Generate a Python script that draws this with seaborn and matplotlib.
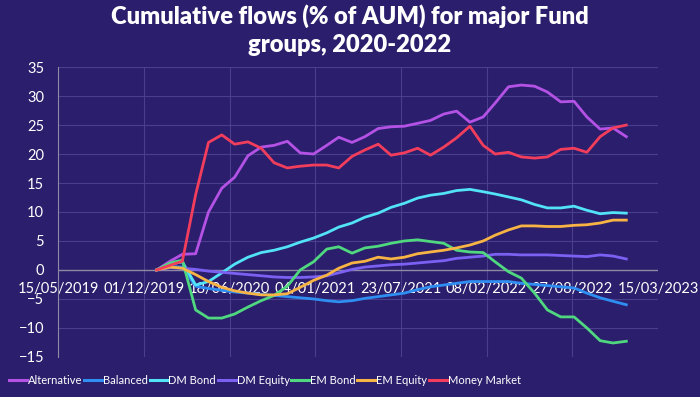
import pandas as pd
import numpy as np
import seaborn as sns
import matplotlib.pyplot as plt

# monthly cumulative flows (% of AUM), Dec 2019 - Dec 2022
dates = pd.date_range('2019-12-31', periods=37, freq='ME')

alternative = [0, 1.5, 2.7, 2.8, 10, 14.1, 16, 19.7, 21.2, 21.5, 22.2, 20.2, 20, 21.5, 22.9, 22,
               23, 24.4, 24.7, 24.8, 25.3, 25.8, 26.9, 27.4, 25.5, 26.4, 28.8, 31.6, 31.9, 31.7,
               30.7, 29, 29.1, 26.4, 24.3, 24.5, 23]
balanced = [0, 0.6, 0.5, -2.8, -3.2, -3.5, -3.8, -4.0, -4.2, -4.4, -4.6, -4.8, -5.0, -5.3, -5.5, -5.3,
            -4.9, -4.6, -4.3, -4.0, -3.4, -2.9, -2.6, -2.3, -2.0, -2.0, -2.0, -2.0, -2.3, -2.5,
            -2.7, -2.9, -3.1, -4.0, -4.8, -5.4, -6.0]
dm_bond = [0, 1.0, 1.4, -2.6, -2.0, -0.5, 1.0, 2.2, 3.0, 3.4, 4.0, 4.8, 5.5, 6.4, 7.4, 8.1,
           9.1, 9.8, 10.8, 11.5, 12.4, 12.9, 13.2, 13.7, 13.9, 13.5, 13.1, 12.6, 12.1, 11.3,
           10.7, 10.7, 11.0, 10.3, 9.7, 9.9, 9.8]
dm_equity = [0, 0.4, 0.3, 0.1, -0.2, -0.4, -0.6, -0.8, -1.0, -1.2, -1.3, -1.3, -1.2, -1.0, -0.5, 0.1,
             0.5, 0.7, 0.9, 1.0, 1.2, 1.4, 1.6, 2.0, 2.2, 2.4, 2.7, 2.7, 2.6, 2.6,
             2.6, 2.5, 2.4, 2.3, 2.6, 2.4, 1.9]
em_bond = [0, 1.2, 1.7, -6.9, -8.3, -8.3, -7.6, -6.4, -5.3, -4.4, -2.8, 0, 1.4, 3.6, 4.0, 2.9,
           3.8, 4.1, 4.6, 5.0, 5.2, 4.9, 4.6, 3.4, 3.1, 3.0, 1.4, -0.3, -1.4, -4.0,
           -6.9, -8.1, -8.1, -10.0, -12.2, -12.6, -12.3]
em_equity = [0, 0.5, 0.3, -0.8, -2.0, -3.0, -3.6, -4.0, -4.3, -4.3, -4.1, -3.0, -1.8, -0.9, 0.3, 1.2,
             1.5, 2.2, 1.9, 2.2, 2.8, 3.1, 3.4, 3.8, 4.3, 5.0, 6.0, 6.9, 7.6, 7.6,
             7.5, 7.5, 7.7, 7.8, 8.1, 8.6, 8.6]
money_market = [0, 0.8, 1.5, 13, 22, 23.3, 21.7, 22.1, 21, 18.5, 17.6, 17.9, 18.1, 18.1, 17.6, 19.6,
                20.7, 21.7, 19.8, 20.2, 21, 19.8, 21.2, 22.8, 24.8, 21.5, 20, 20.3, 19.5, 19.3,
                19.5, 20.8, 21, 20.3, 23, 24.5, 25]

groups = ['Alternative', 'Balanced', 'DM Bond', 'DM Equity', 'EM Bond', 'EM Equity', 'Money Market']
colors = ['#b452e6', '#2f8ef2', '#52e3f7', '#7b60f2', '#4fd87f', '#f7b444', '#f23e5c']
tick_labels = ['15/05/2019', '01/12/2019', '18/06/2020', '04/01/2021',
               '23/07/2021', '08/02/2022', '27/08/2022', '15/03/2023']
y_ticks = [-15, -10, -5, 0, 5, 10, 15, 20, 25, 30, 35]

series = [alternative, balanced, dm_bond, dm_equity, em_bond, em_equity, money_market]
df = pd.concat([pd.DataFrame({'Date': dates, 'Flow': s, 'Group': g}) for g, s in zip(groups, series)])

bg = '#2b1e6c'
grid_c = '#4a3f8c'
plt.rcParams['font.family'] = ['Lato', 'DejaVu Sans']

fig = plt.figure(figsize=(7, 3.97), dpi=100, facecolor=bg)
ax = fig.add_axes([0.083, 0.101, 0.857, 0.730])
ax.set_facecolor(bg)

sns.lineplot(data=df, x='Date', y='Flow', hue='Group', palette=dict(zip(groups, colors)),
             linewidth=2.0, ax=ax, legend=True)

tick_dates = pd.to_datetime(tick_labels, dayfirst=True)
ax.set_xlim(tick_dates[0], tick_dates[-1])
ax.set_ylim(-15, 35)
ax.set_xticks(tick_dates)
ax.set_xticklabels(tick_labels)
ax.set_yticks(y_ticks)
ax.grid(True, color=grid_c, linewidth=0.8)
ax.set_axisbelow(True)
ax.axhline(0, color='#8e8aa6', linewidth=1, zorder=1)

for side in ['top', 'right', 'bottom']:
    ax.spines[side].set_visible(False)
ax.spines['left'].set_color('#8e8aa6')
ax.spines['bottom'].set_position(('data', 0))
ax.tick_params(axis='x', length=0, pad=9, colors='white', labelsize=10.5)
ax.tick_params(axis='y', length=0, pad=10, colors='white', labelsize=10.5)
ax.set_xlabel('')
ax.set_ylabel('')

leg = ax.legend(loc='center', bbox_to_anchor=(0.345, -0.08), ncol=7, frameon=False,
                labelcolor='white', fontsize=8, handlelength=1.6, handletextpad=0.1,
                columnspacing=0.15, title=None)
for line in leg.get_lines():
    line.set_linewidth(2.2)

fig.suptitle('Cumulative flows (% of AUM) for major Fund\ngroups, 2020-2022', color='white',
             fontsize=17, fontweight='heavy', y=0.99, x=0.5, linespacing=1.35)

plt.savefig('out.png', dpi=100, facecolor=bg)
